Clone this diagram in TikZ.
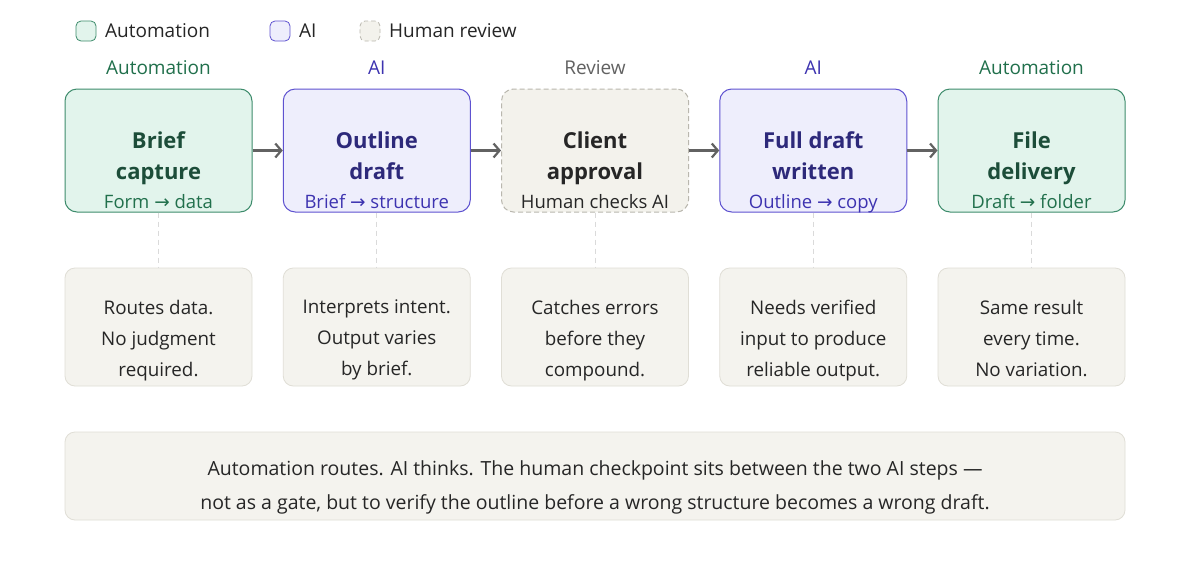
\documentclass[tikz,border=0pt]{standalone}
\usepackage{fontspec}
\setmainfont{Open Sans}
\newfontfamily\symf{DejaVu Sans}
\newcommand{\ar}{{\symf →}}
\usetikzlibrary{arrows.meta}
\definecolor{autofill}{HTML}{E2F4EC}
\definecolor{autodraw}{HTML}{3E8C6C}
\definecolor{autotitle}{HTML}{1C4D39}
\definecolor{autosub}{HTML}{21704C}
\definecolor{aifill}{HTML}{EEEEFC}
\definecolor{aidraw}{HTML}{5E52D0}
\definecolor{aititle}{HTML}{2D297A}
\definecolor{aisub}{HTML}{3D33B0}
\definecolor{revfill}{HTML}{F3F2EC}
\definecolor{revdraw}{HTML}{B9B7AE}
\definecolor{notefill}{HTML}{F4F3EE}
\definecolor{notedraw}{HTML}{E0DED6}
\definecolor{ink}{HTML}{262626}
\definecolor{arrowgray}{HTML}{626262}
\definecolor{dashgray}{HTML}{DADADA}
\tikzset{
  x=1pt,y=-1pt,
  stepbox/.style={rounded corners=12pt, minimum width=187pt, minimum height=123pt, line width=1pt, inner sep=0pt},
  autobox/.style={stepbox, fill=autofill, draw=autodraw},
  aibox/.style={stepbox, fill=aifill, draw=aidraw},
  revbox/.style={stepbox, fill=revfill, draw=revdraw, dash pattern=on 5pt off 3pt},
  notebox/.style={rounded corners=10pt, minimum width=187pt, minimum height=118pt, fill=notefill, draw=notedraw, line width=0.8pt},
  ttl/.style={font=\fontsize{22}{31}\selectfont\bfseries, align=center, inner sep=0pt, text depth=0pt},
  sub/.style={font=\fontsize{18.5}{20}\selectfont, inner sep=0pt, anchor=base},
  cat/.style={font=\fontsize{19}{20}\selectfont, inner sep=0pt},
  notetxt/.style={font=\fontsize{18.8}{31}\selectfont, align=center, text=ink, inner sep=0pt, text depth=0pt},
  legsq/.style={rounded corners=5pt, minimum width=20pt, minimum height=20pt, line width=0.8pt, inner sep=0pt},
  legtxt/.style={font=\fontsize{19}{20}\selectfont, text=ink, inner sep=0pt, anchor=west},
  flow/.style={draw=arrowgray, line width=2.2pt, -{Straight Barb[length=6pt,width=14pt,line width=2.2pt]}},
  link/.style={draw=dashgray, line width=0.8pt, dash pattern=on 5pt off 4pt},
}
\begin{document}
\begin{tikzpicture}
\useasboundingbox[fill=white] (0,0) rectangle (1200,560);
% legend
\node[legsq, fill=autofill, draw=autodraw] (lg1) at (86,31) {};
\node[legtxt] (lt1) at (105,31) {Automation};
\node[legsq, fill=aifill, draw=aidraw] (lg2) at (280,31) {};
\node[legtxt] (lt2) at (299,31) {AI};
\node[legsq, fill=revfill, draw=revdraw, dash pattern=on 4pt off 3pt] (lg3) at (370,31) {};
\node[legtxt] (lt3) at (389,31) {Human review};
% category labels
\node[cat, text=autosub] (c1) at (158.5,68) {Automation};
\node[cat, text=aisub] (c2) at (376.75,68) {AI};
\node[cat, text=arrowgray] (c3) at (595,68) {Review};
\node[cat, text=aisub] (c4) at (813.25,68) {AI};
\node[cat, text=autosub] (c5) at (1031.5,68) {Automation};
% step boxes
\node[autobox] (b1) at (158.5,150.5) {};
\node[aibox] (b2) at (376.75,150.5) {};
\node[revbox] (b3) at (595,150.5) {};
\node[aibox] (b4) at (813.25,150.5) {};
\node[autobox] (b5) at (1031.5,150.5) {};
% titles
\node[ttl, text=autotitle] (t1) at (158.5,156) {Brief\\capture};
\node[ttl, text=aititle] (t2) at (376.75,156) {Outline\\draft};
\node[ttl, text=ink] (t3) at (595,156) {Client\\approval};
\node[ttl, text=aititle] (t4) at (813.25,156) {Full draft\\written};
\node[ttl, text=autotitle] (t5) at (1031.5,156) {File\\delivery};
% subtitles
\node[sub, text=autosub] (s1) at (158.5,208) {Form \ar\ data};
\node[sub, text=aisub] (s2) at (376.75,208) {Brief \ar\ structure};
\node[sub, text=ink] (s3) at (595,208) {Human checks AI};
\node[sub, text=aisub] (s4) at (813.25,208) {Outline \ar\ copy};
\node[sub, text=autosub] (s5) at (1031.5,208) {Draft \ar\ folder};
% notes
\node[notebox] (n1) at (158.5,327) {};
\node[notebox] (n2) at (376.75,327) {};
\node[notebox] (n3) at (595,327) {};
\node[notebox] (n4) at (813.25,327) {};
\node[notebox] (n5) at (1031.5,327) {};
\node[notetxt] (nt1) at (158.5,338) {Routes data.\\No judgment\\required.};
\node[notetxt] (nt2) at (376.75,338) {Interprets intent.\\Output varies\\by brief.};
\node[notetxt] (nt3) at (595,338) {Catches errors\\before they\\compound.};
\node[notetxt] (nt4) at (813.25,338) {Needs verified\\input to produce\\reliable output.};
\node[notetxt] (nt5) at (1031.5,338) {Same result\\every time.\\No variation.};
% flow arrows
\draw[flow] (b1.east) -- (b2.west);
\draw[flow] (b2.east) -- (b3.west);
\draw[flow] (b3.east) -- (b4.west);
\draw[flow] (b4.east) -- (b5.west);
% dashed links
\foreach \i in {1,...,5} { \draw[link] (b\i.south) -- (n\i.north); }
% summary
\node[rounded corners=10pt, minimum width=1060pt, minimum height=88pt, fill=notefill, draw=notedraw, line width=0.8pt] (sum) at (595,476) {};
\node[font=\fontsize{19.5}{34}\selectfont, align=center, text=ink, inner sep=0pt] (sumt) at (595,487) {Automation routes. AI thinks. The human checkpoint sits between the two AI steps —\\not as a gate, but to verify the outline before a wrong structure becomes a wrong draft.};
\end{tikzpicture}
\end{document}
